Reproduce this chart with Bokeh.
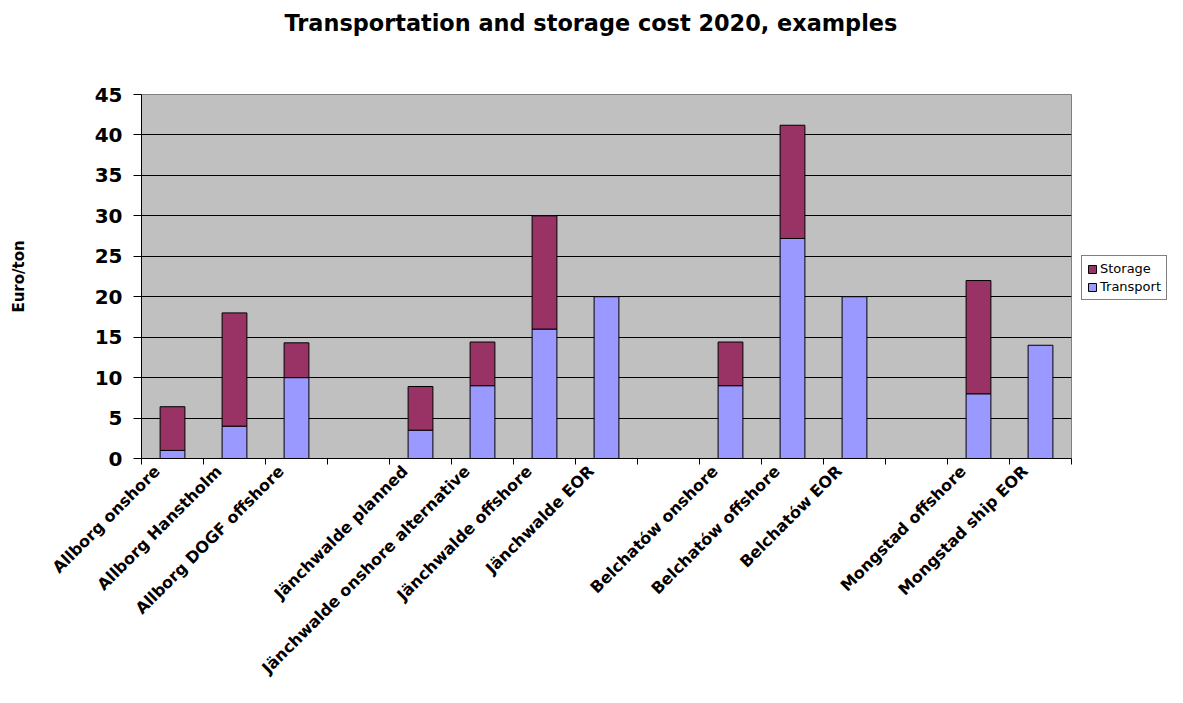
import math
from bokeh.plotting import figure
from bokeh.layouts import row
from bokeh.models import Range1d, FixedTicker, Legend, LegendItem, ColumnDataSource
from bokeh.embed import file_html
from bokeh.resources import INLINE

# ---- data ----
categories = ["Allborg onshore", "Allborg Hanstholm", "Allborg DOGF offshore", "",
              "Jänchwalde planned", "Jänchwalde onshore alternative", "Jänchwalde offshore",
              "Jänchwalde EOR", "",
              "Belchatów onshore", "Belchatów offshore", "Belchatów EOR", "",
              "Mongstad offshore", "Mongstad ship EOR"]
transport = [1, 4, 10, 0, 3.5, 9, 16, 20, 0, 9, 27.2, 20, 0, 8, 14]
storage = [5.4, 14, 4.3, 0, 5.4, 5.4, 14, 0, 0, 5.4, 14, 0, 0, 14, 0]
y_ticks = [0, 5, 10, 15, 20, 25, 30, 35, 40, 45]
series_names = ["Storage", "Transport"]
series_colors = ["#993366", "#9999FF"]

FONT = "DejaVu Sans"
n = len(categories)
idx = [i for i in range(n) if categories[i] != ""]

t_src = ColumnDataSource(dict(x=idx, top=[transport[i] for i in idx]))
s_idx = [i for i in idx if storage[i] > 0]
s_src = ColumnDataSource(dict(x=s_idx, bottom=[transport[i] for i in s_idx],
                              top=[transport[i] + storage[i] for i in s_idx]))

p = figure(width=1072, height=687, output_backend="svg", toolbar_location=None,
           x_range=Range1d(-0.5, n - 0.5), y_range=Range1d(0, 45),
           min_border_left=141, min_border_right=1, min_border_top=94, min_border_bottom=228)

p.background_fill_color = "#C0C0C0"
p.border_fill_color = "white"
p.outline_line_color = "#808080"
p.outline_line_width = 1

p.vbar(x="x", top="top", bottom=0, width=0.4, source=t_src,
       fill_color=series_colors[1], line_color="black", line_width=1)
p.vbar(x="x", top="top", bottom="bottom", width=0.4, source=s_src,
       fill_color=series_colors[0], line_color="black", line_width=1)

# title (blank extra lines lift the text towards the top of the page)
p.title.text = "Transportation and storage cost 2020, examples\n \n "
p.title.align = "left"
p.title.offset = 143
p.title.text_color = "black"
p.title.text_font = FONT
p.title.text_font_style = "bold"
p.title.text_font_size = "22.4px"
p.title.standoff = 13

# y axis
p.yaxis.ticker = FixedTicker(ticks=y_ticks)
p.yaxis.axis_label = "Euro/ton"
p.yaxis.axis_label_text_color = "black"
p.yaxis.axis_label_text_font = FONT
p.yaxis.axis_label_text_font_style = "bold"
p.yaxis.axis_label_text_font_size = "15px"
p.yaxis.axis_label_standoff = 64
p.yaxis.major_label_text_font = FONT
p.yaxis.major_label_text_font_style = "bold"
p.yaxis.major_label_text_font_size = "20px"
p.yaxis.major_label_text_color = "black"
p.yaxis.major_tick_out = 8
p.yaxis.major_tick_in = 0
p.yaxis.minor_tick_line_color = None
p.yaxis.axis_line_color = "black"
p.yaxis.major_tick_line_color = "black"
p.yaxis.major_label_standoff = 11

# x axis: boundary ticks, labels slightly left of bar centres
label_shift = -0.25
label_pos = [i + label_shift for i in idx]
bounds = [i - 0.5 for i in range(n + 1)]
p.xaxis.ticker = FixedTicker(ticks=label_pos, minor_ticks=bounds)
p.xaxis.major_label_overrides = {pos: categories[i] for pos, i in zip(label_pos, idx)}
p.xaxis.major_label_orientation = math.pi / 4
p.xaxis.major_label_text_font = FONT
p.xaxis.major_label_text_font_style = "bold"
p.xaxis.major_label_text_font_size = "16px"
p.xaxis.major_label_text_line_height = 0.9
p.xaxis.major_label_text_color = "black"
p.xaxis.major_tick_out = 0
p.xaxis.major_tick_in = 0
p.xaxis.minor_tick_out = 6
p.xaxis.minor_tick_in = 0
p.xaxis.minor_tick_line_color = "black"
p.xaxis.axis_line_color = "black"
p.xaxis.major_label_standoff = 4

# grid
p.xgrid.visible = False
p.ygrid.ticker = FixedTicker(ticks=[v for v in y_ticks if 0 < v < 45])
p.ygrid.grid_line_color = "black"
p.ygrid.grid_line_width = 1

# legend panel to the right of the plot area
lg = figure(width=95, height=687, output_backend="svg", toolbar_location=None,
            x_range=Range1d(0, 1), y_range=Range1d(0, 1),
            x_axis_type=None, y_axis_type=None,
            min_border_left=0, min_border_right=0, min_border_top=94, min_border_bottom=228)
lg.outline_line_color = None
lg.background_fill_color = "white"
lg.border_fill_color = "white"
items = []
for name, col in zip(series_names, series_colors):
    # swatch renderers kept outside the visible range; only their legend glyphs show
    r = lg.vbar(x=[10], top=[1], width=0.4, fill_color=col, line_color="black", line_width=1)
    items.append(LegendItem(label=name, renderers=[r]))

legend = Legend(items=items, location=(9, 158))
legend.label_text_font = FONT
legend.label_text_font_size = "13px"
legend.label_text_color = "black"
legend.glyph_width = 10
legend.glyph_height = 10
legend.spacing = 3
legend.padding = 5
legend.margin = 0
legend.label_standoff = 3
legend.border_line_color = "black"
legend.background_fill_color = "white"
legend.background_fill_alpha = 1
lg.add_layout(legend, "center")

layout = row(p, lg, spacing=0)
open("out.html", "w").write(file_html(layout, INLINE))
